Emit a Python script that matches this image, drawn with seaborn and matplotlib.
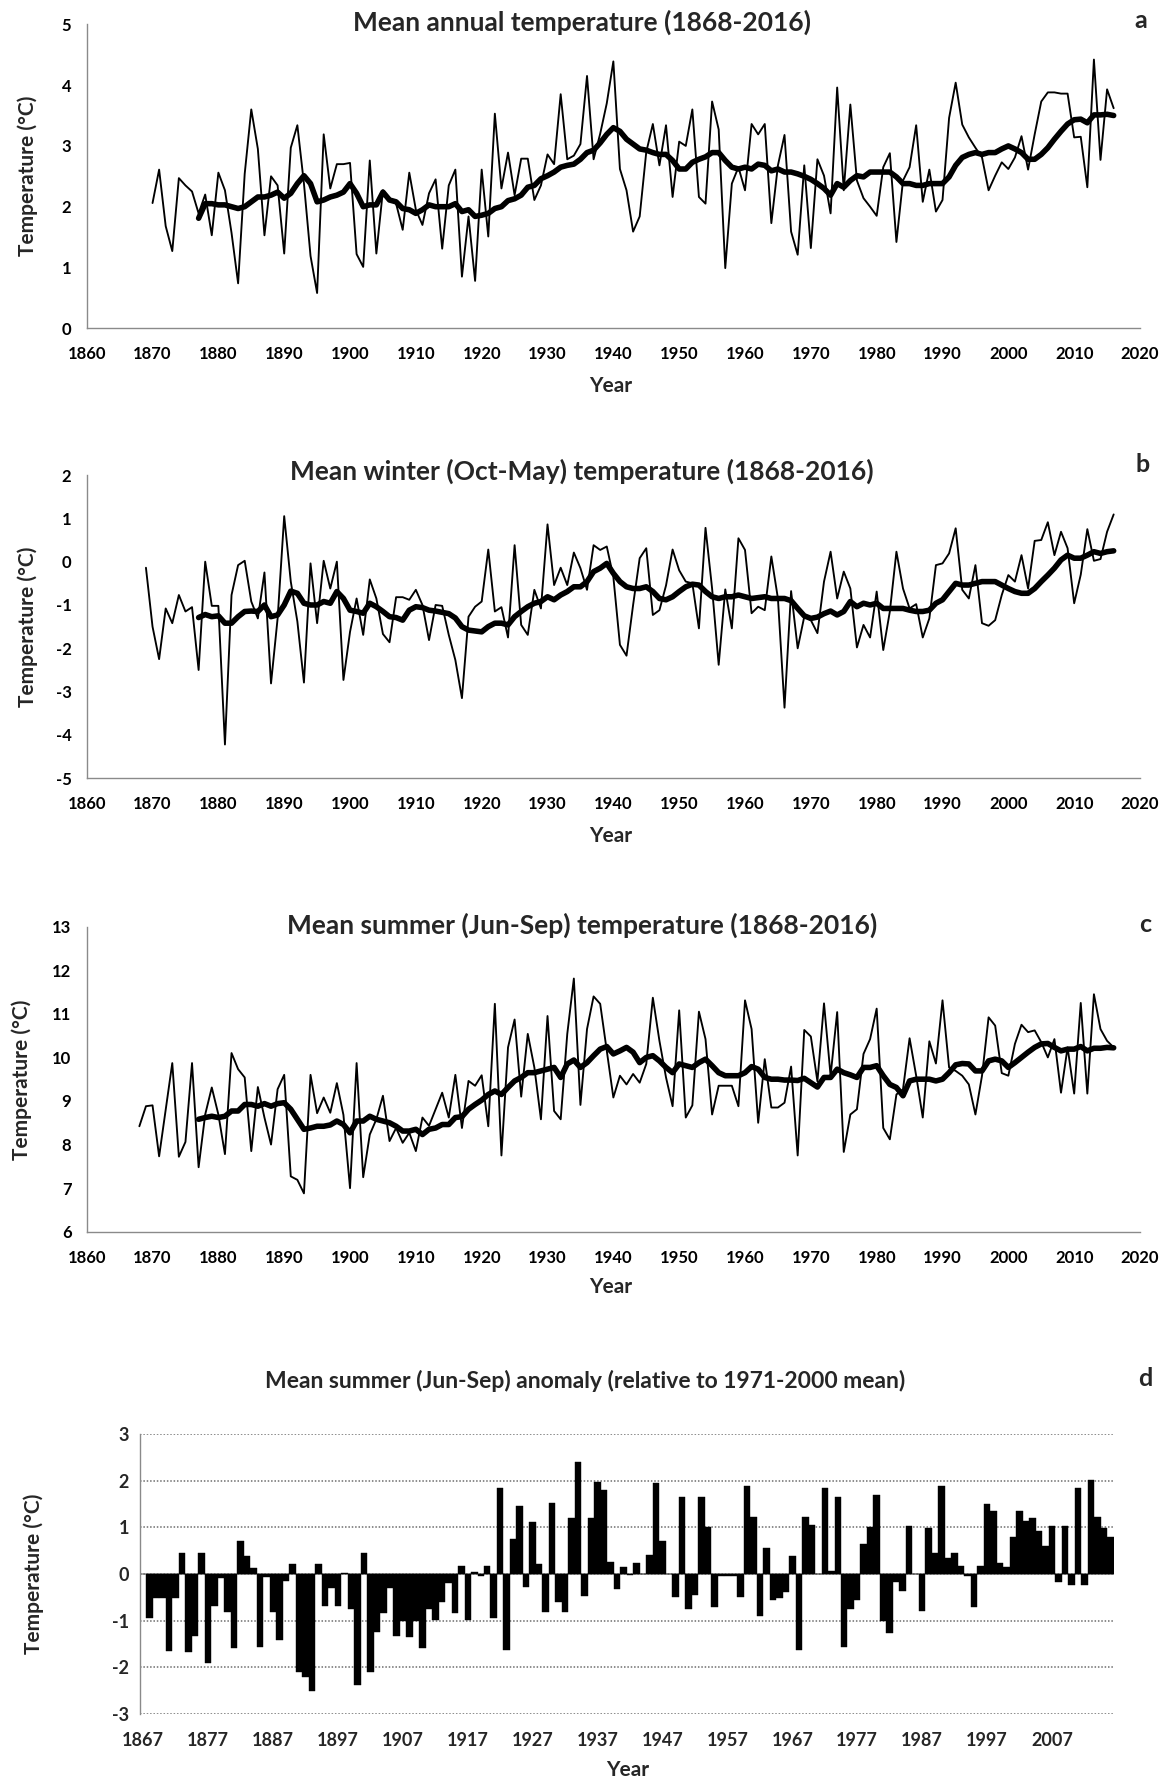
import matplotlib
matplotlib.use("Agg")
import matplotlib.pyplot as plt
import seaborn as sns
import numpy as np

# ---------------- data ----------------
years_a = list(range(1870, 2017))
annual = [2.06, 2.61, 1.68, 1.27, 2.47, 2.35, 2.25, 1.89, 2.2, 1.53,
          2.56, 2.27, 1.57, 0.74, 2.54, 3.6, 2.95, 1.53, 2.5, 2.35,
          1.23, 2.97, 3.34, 2.38, 1.19, 0.58, 3.19, 2.3, 2.7, 2.7,
          2.72, 1.22, 1.01, 2.76, 1.23, 2.27, 2.14, 2.05, 1.62, 2.56,
          1.95, 1.7, 2.22, 2.45, 1.31, 2.35, 2.61, 0.85, 1.84, 0.78,
          2.61, 1.51, 3.53, 2.3, 2.89, 2.19, 2.79, 2.79, 2.11, 2.35,
          2.86, 2.7, 3.85, 2.78, 2.84, 3.03, 4.15, 2.78, 3.2, 3.7,
          4.39, 2.62, 2.27, 1.59, 1.84, 2.9, 3.36, 2.68, 3.34, 2.16,
          3.07, 3.0, 3.6, 2.16, 2.05, 3.73, 3.27, 0.99, 2.38, 2.65,
          2.27, 3.36, 3.19, 3.36, 1.73, 2.68, 3.18, 1.59, 1.21, 2.68,
          1.32, 2.78, 2.51, 1.89, 3.96, 2.27, 3.68, 2.43, 2.14, 2.0,
          1.85, 2.65, 2.88, 1.42, 2.43, 2.65, 3.34, 2.08, 2.61, 1.92,
          2.11, 3.46, 4.04, 3.35, 3.14, 2.97, 2.81, 2.27, 2.51, 2.73,
          2.62, 2.81, 3.16, 2.61, 3.19, 3.73, 3.88, 3.88, 3.86, 3.86,
          3.14, 3.15, 2.32, 4.42, 2.77, 3.93, 3.62]

years_ma = list(range(1877, 2017))
annual_ma = [1.81, 2.05, 2.05, 2.03, 2.03, 2.0, 1.97, 2.0, 2.08, 2.16,
             2.16, 2.19, 2.24, 2.14, 2.22, 2.38, 2.51, 2.38, 2.08, 2.11,
             2.16, 2.19, 2.24, 2.38, 2.22, 2.0, 2.03, 2.03, 2.24, 2.11,
             2.08, 1.97, 1.95, 1.89, 1.95, 2.03, 2.0, 2.0, 2.0, 2.05,
             1.92, 1.95, 1.84, 1.86, 1.89, 1.97, 2.0, 2.1, 2.13, 2.19,
             2.32, 2.35, 2.46, 2.51, 2.57, 2.65, 2.68, 2.7, 2.78, 2.89,
             2.93, 3.05, 3.19, 3.3, 3.24, 3.11, 3.03, 2.95, 2.93, 2.89,
             2.86, 2.86, 2.76, 2.62, 2.62, 2.73, 2.78, 2.82, 2.89, 2.89,
             2.76, 2.65, 2.62, 2.65, 2.62, 2.7, 2.68, 2.59, 2.62, 2.57,
             2.57, 2.54, 2.5, 2.45, 2.38, 2.3, 2.19, 2.38, 2.32, 2.43,
             2.51, 2.49, 2.57, 2.57, 2.57, 2.57, 2.49, 2.38, 2.38, 2.35,
             2.35, 2.38, 2.38, 2.38, 2.49, 2.68, 2.81, 2.86, 2.89, 2.86,
             2.89, 2.89, 2.95, 3.0, 2.95, 2.89, 2.78, 2.78, 2.86, 2.97,
             3.11, 3.24, 3.36, 3.43, 3.44, 3.38, 3.51, 3.51, 3.52, 3.5]

years_b = list(range(1869, 2017))
winter = [-0.14, -1.5, -2.25, -1.08, -1.42, -0.77, -1.15, -1.05, -2.5, 0.0,
          -1.02, -1.02, -4.22, -0.77, -0.08, 0.02, -0.92, -1.31, -0.25, -2.81,
          -1.31, 1.05, -0.46, -1.38, -2.79, -0.04, -1.42, 0.02, -0.62, 0.0,
          -2.73, -1.62, -0.85, -1.69, -0.41, -0.85, -1.67, -1.86, -0.82, -0.82,
          -0.88, -0.65, -1.0, -1.81, -1.0, -1.02, -1.69, -2.27, -3.15, -1.27,
          -1.04, -0.92, 0.28, -1.15, -1.05, -1.75, 0.38, -1.46, -1.69, -0.65,
          -1.08, 0.86, -0.54, -0.14, -0.54, 0.21, -0.15, -0.65, 0.38, 0.27,
          0.35, -0.35, -1.92, -2.17, -1.0, 0.08, 0.31, -1.23, -1.12, -0.55,
          0.28, -0.2, -0.46, -0.5, -1.54, 0.78, -0.62, -2.38, -0.64, -1.54,
          0.54, 0.27, -1.19, -1.04, -1.12, 0.12, -0.85, -3.37, -0.68, -2.0,
          -1.27, -1.35, -1.65, -0.46, 0.23, -0.85, -0.23, -0.62, -1.98, -1.46,
          -1.75, -0.69, -2.04, -1.15, 0.23, -0.62, -1.08, -0.98, -1.75, -1.31,
          -0.08, -0.04, 0.19, 0.77, -0.65, -0.85, -0.08, -1.42, -1.48, -1.35,
          -0.77, -0.31, -0.46, 0.15, -0.62, 0.48, 0.5, 0.91, 0.15, 0.69,
          0.31, -0.96, -0.3, 0.75, 0.02, 0.06, 0.69, 1.09]

winter_ma = [-1.29, -1.22, -1.27, -1.25, -1.42, -1.42, -1.27, -1.15, -1.14, -1.15,
             -1.0, -1.27, -1.23, -1.0, -0.68, -0.73, -0.96, -1.0, -1.0, -0.92,
             -0.96, -0.69, -0.85, -1.12, -1.15, -1.19, -0.96, -1.04, -1.15, -1.27,
             -1.29, -1.35, -1.12, -1.04, -1.06, -1.12, -1.14, -1.17, -1.2, -1.3,
             -1.5, -1.58, -1.6, -1.62, -1.5, -1.42, -1.42, -1.46, -1.27, -1.15,
             -1.04, -0.96, -0.92, -0.81, -0.88, -0.77, -0.69, -0.58, -0.58, -0.46,
             -0.23, -0.15, -0.04, -0.27, -0.46, -0.58, -0.62, -0.62, -0.58, -0.69,
             -0.85, -0.88, -0.81, -0.69, -0.58, -0.52, -0.54, -0.69, -0.81, -0.85,
             -0.81, -0.81, -0.77, -0.81, -0.85, -0.83, -0.81, -0.85, -0.85, -0.85,
             -0.9, -1.08, -1.25, -1.31, -1.28, -1.2, -1.14, -1.23, -1.15, -0.92,
             -1.04, -0.96, -1.0, -0.96, -1.08, -1.08, -1.08, -1.08, -1.12, -1.15,
             -1.15, -1.12, -0.96, -0.88, -0.69, -0.5, -0.54, -0.54, -0.5, -0.46,
             -0.46, -0.46, -0.54, -0.62, -0.69, -0.73, -0.73, -0.62, -0.46, -0.31,
             -0.15, 0.04, 0.15, 0.08, 0.08, 0.15, 0.23, 0.19, 0.23, 0.25]

years_c = list(range(1868, 2017))
summer = [8.42, 8.88, 8.9, 7.73, 8.8, 9.87, 7.72, 8.06, 9.87, 7.48,
          8.69, 9.31, 8.69, 7.78, 10.1, 9.73, 9.54, 7.85, 9.32, 8.62,
          8.0, 9.27, 9.6, 7.27, 7.19, 6.88, 9.6, 8.72, 9.08, 8.73,
          9.41, 8.68, 7.0, 9.87, 7.25, 8.23, 8.58, 9.12, 8.08, 8.38,
          8.04, 8.27, 7.85, 8.62, 8.43, 8.81, 9.19, 8.62, 9.6, 8.38,
          9.46, 9.35, 9.59, 8.42, 11.23, 7.75, 10.23, 10.87, 9.1, 10.54,
          9.77, 8.58, 10.95, 8.77, 8.58, 10.54, 11.81, 8.91, 10.65, 11.4,
          11.23, 10.15, 9.08, 9.58, 9.38, 9.62, 9.42, 9.85, 11.37, 10.38,
          9.54, 8.88, 11.08, 8.62, 8.9, 11.05, 10.42, 8.69, 9.35, 9.35,
          9.35, 8.88, 11.31, 10.65, 8.5, 9.96, 8.85, 8.85, 8.96, 9.79,
          7.75, 10.63, 10.48, 9.45, 11.24, 9.58, 11.04, 7.83, 8.69, 8.81,
          10.08, 10.42, 11.12, 8.38, 8.12, 9.15, 9.27, 10.44, 9.58, 8.62,
          10.37, 9.86, 11.31, 9.77, 9.69, 9.58, 9.38, 8.69, 9.58, 10.92,
          10.73, 9.64, 9.58, 10.31, 10.75, 10.58, 10.62, 10.35, 10.0, 10.42,
          9.19, 10.23, 9.17, 11.25, 9.17, 11.45, 10.65, 10.38, 10.23]

summer_ma = [8.58, 8.62, 8.65, 8.62, 8.65, 8.77, 8.77, 8.92, 8.92, 8.88,
             8.94, 8.88, 8.94, 8.96, 8.81, 8.58, 8.35, 8.38, 8.42, 8.42,
             8.45, 8.54, 8.46, 8.27, 8.54, 8.54, 8.65, 8.58, 8.54, 8.5,
             8.42, 8.31, 8.31, 8.35, 8.23, 8.35, 8.38, 8.46, 8.46, 8.62,
             8.64, 8.81, 8.92, 9.02, 9.15, 9.23, 9.15, 9.31, 9.46, 9.54,
             9.65, 9.65, 9.69, 9.73, 9.77, 9.54, 9.85, 9.94, 9.77, 9.88,
             10.04, 10.19, 10.25, 10.08, 10.15, 10.23, 10.12, 9.88, 10.0, 10.04,
             9.92, 9.77, 9.65, 9.85, 9.81, 9.77, 9.88, 9.96, 9.81, 9.65,
             9.58, 9.58, 9.58, 9.65, 9.79, 9.73, 9.54, 9.5, 9.5, 9.48,
             9.48, 9.47, 9.52, 9.42, 9.32, 9.54, 9.54, 9.73, 9.65, 9.6,
             9.54, 9.77, 9.77, 9.81, 9.58, 9.38, 9.31, 9.12, 9.46, 9.5,
             9.5, 9.5, 9.46, 9.5, 9.65, 9.83, 9.86, 9.85, 9.69, 9.69,
             9.92, 9.96, 9.92, 9.77, 9.88, 10.0, 10.12, 10.23, 10.31, 10.32,
             10.23, 10.15, 10.19, 10.19, 10.25, 10.15, 10.21, 10.21, 10.23, 10.22]

years_d = list(range(1868, 2017))
anomaly = [-0.95, -0.52, -0.52, -1.64, -0.52, 0.46, -1.68, -1.33, 0.46, -1.9,
           -0.68, -0.08, -0.81, -1.59, 0.71, 0.39, 0.12, -1.56, -0.06, -0.81,
           -1.41, -0.14, 0.21, -2.11, -2.2, -2.5, 0.21, -0.68, -0.29, -0.68,
           0.03, -0.74, -2.38, 0.46, -2.11, -1.24, -0.83, -0.29, -1.33, -1.01,
           -1.36, -1.01, -1.58, -0.76, -0.99, -0.61, -0.19, -0.84, 0.18, -0.99,
           0.05, -0.04, 0.18, -0.95, 1.84, -1.63, 0.76, 1.46, -0.27, 1.12,
           0.21, -0.81, 1.53, -0.59, -0.81, 1.21, 2.41, -0.47, 1.19, 1.98,
           1.8, 0.25, -0.32, 0.16, -0.02, 0.24, 0.01, 0.41, 1.96, 0.71,
           0.0, -0.5, 1.66, -0.75, -0.46, 1.64, 1.01, -0.7, -0.04, -0.04,
           -0.04, -0.5, 1.89, 1.23, -0.91, 0.56, -0.56, -0.52, -0.39, 0.39,
           -1.63, 1.23, 1.05, 0.0, 1.84, 0.07, 1.64, -1.57, -0.74, -0.56,
           0.64, 1.0, 1.69, -1.01, -1.26, -0.18, -0.36, 1.03, 0.0, -0.79,
           0.98, 0.46, 1.89, 0.34, 0.44, 0.18, -0.04, -0.7, 0.18, 1.51,
           1.34, 0.24, 0.16, 0.8, 1.36, 1.14, 1.21, 0.92, 0.59, 1.03,
           -0.18, 1.03, -0.24, 1.84, -0.24, 2.01, 1.23, 0.98, 0.79]

line_xticks = list(range(1860, 2021, 10))
bar_xticks = list(range(1867, 2008, 10))

titles = ["Mean annual temperature (1868-2016)",
          "Mean winter (Oct-May) temperature (1868-2016)",
          "Mean summer (Jun-Sep) temperature (1868-2016)",
          "Mean summer (Jun-Sep) anomaly (relative to 1971-2000 mean)"]
letters = ["a", "b", "c", "d"]

# ---------------- style ----------------
sns.set_theme(style="white")
plt.rcParams["font.family"] = ["Lato", "DejaVu Sans"]
plt.rcParams["font.weight"] = "bold"

W, H = 1167, 1782
fig = plt.figure(figsize=(W / 100, H / 100), dpi=100)
GREY = "#8a8a8a"
TICK_FS = 12
BAR_TICK_FS = 13
LAB_FS = 15
TITLE_FS = [19, 19, 19, 16.5]
LETTER_FS = 18


def rect(x0, x1, ytop, ybot):
    return [x0 / W, 1 - ybot / H, (x1 - x0) / W, (ybot - ytop) / H]


def fx(x):
    return x / W


def fy(y):
    return 1 - y / H


def line_panel(r, xt, yt, xm, ym, ylim, yticks):
    ax = fig.add_axes(r)
    sns.lineplot(x=xt, y=yt, ax=ax, color="black", linewidth=1.35, errorbar=None)
    sns.lineplot(x=xm, y=ym, ax=ax, color="black", linewidth=4.0, errorbar=None,
                 solid_capstyle="round", solid_joinstyle="round")
    ax.set_xlim(1860, 2020)
    ax.set_ylim(*ylim)
    ax.set_xticks(line_xticks)
    ax.set_xticklabels([str(t) for t in line_xticks])
    ax.set_yticks(yticks)
    ax.set_yticklabels([str(t) for t in yticks])
    for s in ["top", "right"]:
        ax.spines[s].set_visible(False)
    for s in ["left", "bottom"]:
        ax.spines[s].set_color(GREY)
        ax.spines[s].set_linewidth(1.0)
    ax.tick_params(axis="both", direction="out", length=5, width=1.0, color=GREY,
                   labelsize=TICK_FS, labelcolor="black")
    ax.tick_params(axis="x", pad=8)
    ax.tick_params(axis="y", pad=6)
    ax.set_xlabel("")
    ax.set_ylabel("")
    for lbl in ax.get_xticklabels() + ax.get_yticklabels():
        lbl.set_fontweight("bold")
    ax.patch.set_alpha(0)
    return ax


# panel a
line_panel(rect(86.7, 1140, 24.3, 328.3), years_a, annual, years_ma, annual_ma,
           (0, 5), list(range(0, 6)))
# panel b
line_panel(rect(86.7, 1140, 475, 778.3), years_b, winter, years_ma, winter_ma,
           (-5, 2), list(range(-5, 3)))
# panel c
line_panel(rect(86.7, 1140, 926.7, 1231.7), years_c, summer, years_ma, summer_ma,
           (6, 13), list(range(6, 14)))

# panel d (bars)
axd = fig.add_axes(rect(140, 1113.6, 1434, 1714))
sns.barplot(x=years_d, y=anomaly, native_scale=True, width=1.0, color="black",
            saturation=1, edgecolor="black", linewidth=0.3, errorbar=None, ax=axd)
axd.set_xlim(1866.5, 2016.5)
axd.set_ylim(-3, 3)
axd.set_yticks(list(range(-3, 4)))
axd.set_yticklabels([str(t) for t in range(-3, 4)])
axd.set_xticks(bar_xticks)
axd.set_xticklabels([str(t) for t in bar_xticks])
axd.set_axisbelow(True)
axd.yaxis.grid(True, linestyle=(0, (1.0, 1.2)), color="#6e6e6e", linewidth=1.1)
axd.axhline(0, color="#9a9a9a", linewidth=1.2, zorder=0.5)
for s in ["top", "right", "bottom"]:
    axd.spines[s].set_visible(False)
axd.spines["left"].set_color(GREY)
axd.spines["left"].set_linewidth(1.0)
axd.tick_params(axis="y", direction="out", length=5, width=1.0, color=GREY,
                labelsize=BAR_TICK_FS, pad=3)
axd.tick_params(axis="x", length=0, labelsize=BAR_TICK_FS, pad=13)
axd.set_xlabel("")
axd.set_ylabel("")
for lbl in axd.get_xticklabels() + axd.get_yticklabels():
    lbl.set_fontweight("bold")
axd.patch.set_alpha(0)

# ---------------- text ----------------
title_pos = [(582, 22), (582, 471), (582, 925), (585, 1381)]
letter_pos = [(1141, 21), (1143, 465), (1145, 924), (1145, 1378)]
ylabel_pos = [(28, 176), (28, 627), (22, 1080), (34, 1574)]
year_pos = [(611, 386), (611, 836), (611, 1287), (628, 1770)]
for i in range(4):
    fig.text(fx(title_pos[i][0]), fy(title_pos[i][1]), titles[i], ha="center",
             va="center", fontsize=TITLE_FS[i], fontweight="bold")
    fig.text(fx(letter_pos[i][0]), fy(letter_pos[i][1]), letters[i], ha="center",
             va="center", fontsize=LETTER_FS, fontweight="bold")
    fig.text(fx(ylabel_pos[i][0]), fy(ylabel_pos[i][1]), "Temperature (°C)",
             rotation=90, ha="center", va="center", fontsize=LAB_FS,
             fontweight="bold")
    fig.text(fx(year_pos[i][0]), fy(year_pos[i][1]), "Year", ha="center",
             va="center", fontsize=LAB_FS, fontweight="bold")

fig.savefig("out.png", dpi=100, facecolor="white")
